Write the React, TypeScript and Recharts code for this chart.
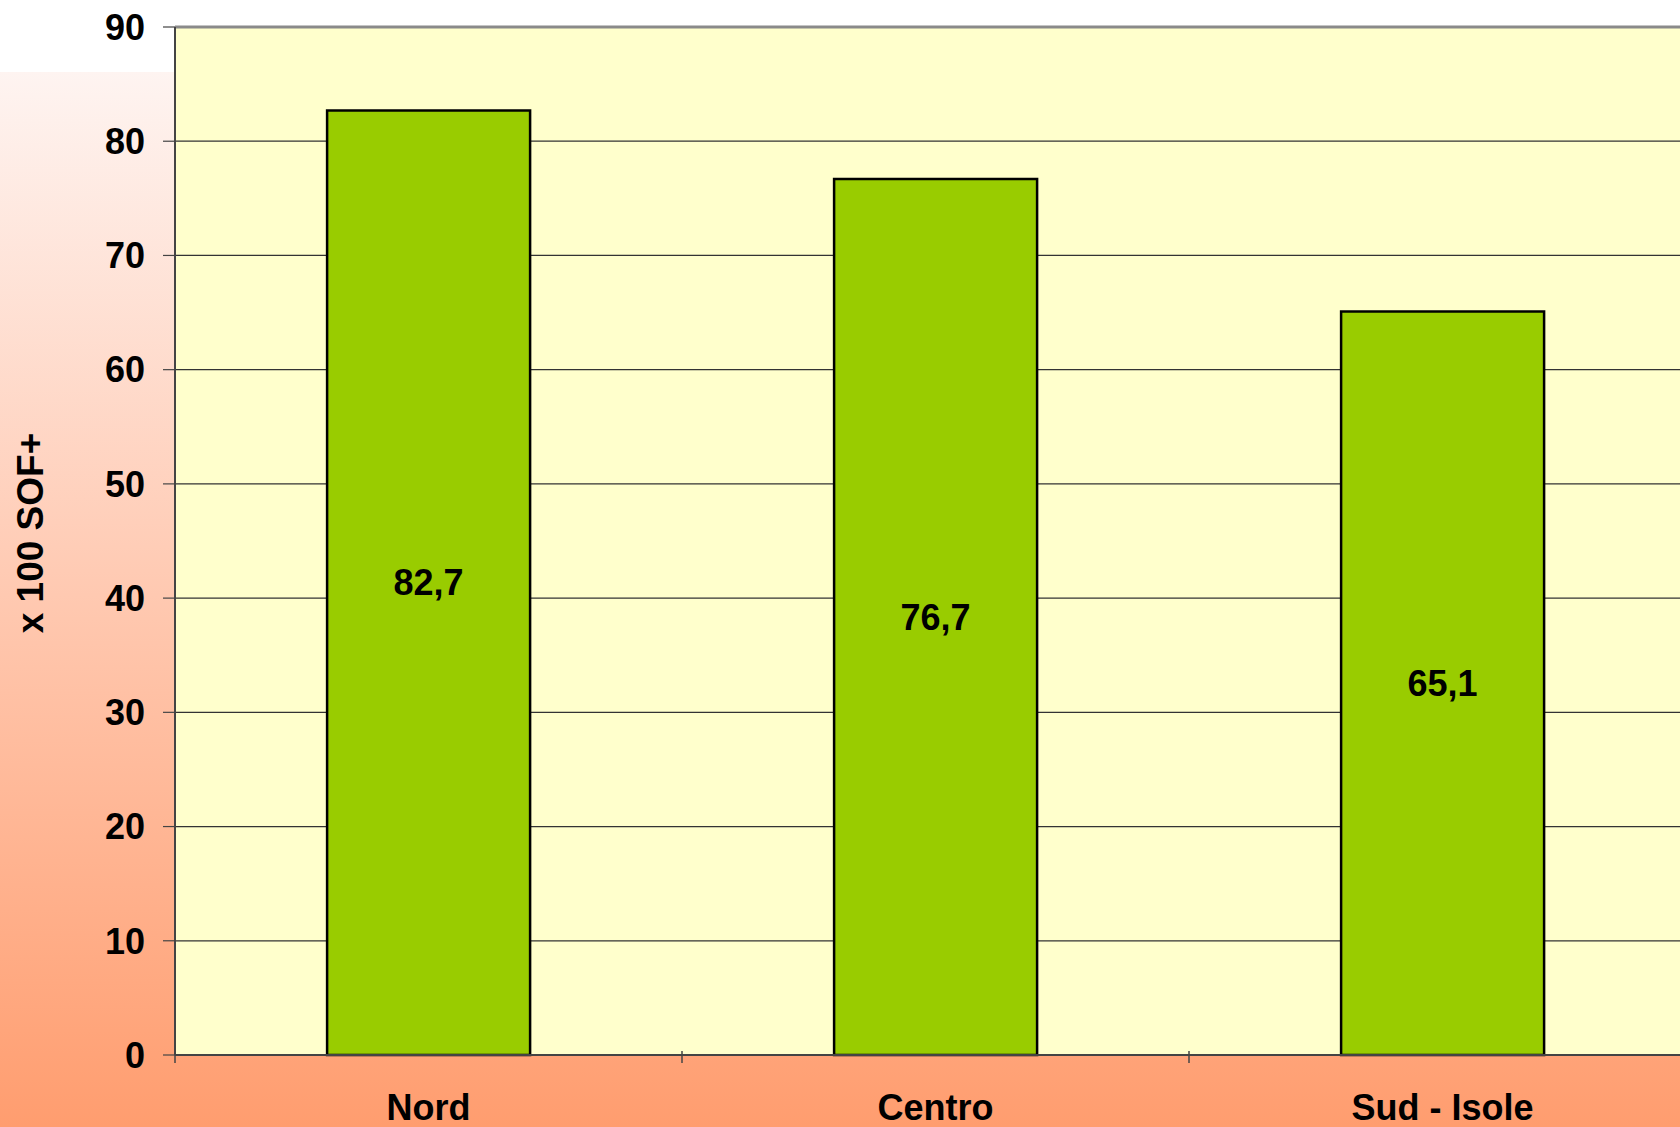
import React from 'react';
import {
  Bar,
  BarChart,
  CartesianGrid,
  LabelList,
  ReferenceLine,
  XAxis,
  YAxis,
} from 'recharts';

const regioni = ['Nord', 'Centro', 'Sud - Isole'];
const valori = [82.7, 76.7, 65.1];
const yTicks = [0, 10, 20, 30, 40, 50, 60, 70, 80, 90];

const FONT = '"Liberation Sans", Arial, sans-serif';

const chartData = regioni.map((r, i) => ({ regione: r, valore: valori[i] }));

const formatValore = (v: number) => v.toFixed(1).replace('.', ',');

// tick della x: etichetta al centro della categoria, trattino sul bordo sinistro
const CategoryTick = (props: any) => {
  const { x, y, payload } = props;
  const half = payload?.offset ?? 0;
  return (
    <g>
      <line x1={x - half} x2={x - half} y1={y - 12} y2={y} stroke="#444" strokeWidth={1.5} />
      <text
        x={x}
        y={y + 57}
        textAnchor="middle"
        fontFamily={FONT}
        fontSize={36}
        fontWeight={700}
        fill="#000"
      >
        {payload.value}
      </text>
    </g>
  );
};

const AxisTitle = (props: any) => {
  const { viewBox } = props;
  const cx = viewBox.x + 30;
  const cy = viewBox.y + viewBox.height / 2 - 8;
  return (
    <text
      x={cx}
      y={cy}
      transform={`rotate(-90, ${cx}, ${cy})`}
      textAnchor="middle"
      dominantBaseline="central"
      fontFamily={FONT}
      fontSize={37}
      fontWeight={700}
      fill="#000"
    >
      x 100 SOF+
    </text>
  );
};

export default function App() {
  return (
    <div
      style={{
        position: 'fixed',
        top: 0,
        left: 0,
        width: 1680,
        height: 1127,
        overflow: 'hidden',
        background: '#fff',
      }}
    >
      <div
        style={{
          position: 'absolute',
          top: 72,
          left: 0,
          width: 1680,
          height: 1055,
          background: 'linear-gradient(to bottom, #FEF4F1 0%, #FFCDB7 45%, #FF9D6F 100%)',
        }}
      />
      <div style={{ position: 'absolute', top: 0, left: 0 }}>
        <BarChart
          width={1720}
          height={1127}
          data={chartData}
          margin={{ top: 27, right: 24, left: 0, bottom: 0 }}
          barCategoryGap="30%"
        >
          <CartesianGrid
            vertical={false}
            fill="#FFFFCC"
            fillOpacity={1}
            stroke="#333"
            strokeWidth={1.2}
          />
          <XAxis
            dataKey="regione"
            height={72}
            axisLine={{ stroke: '#444', strokeWidth: 2 }}
            tickLine={false}
            tick={<CategoryTick />}
            interval={0}
          />
          <YAxis
            width={175}
            domain={[0, 90]}
            ticks={yTicks}
            interval={0}
            tickSize={12}
            tickMargin={18}
            axisLine={{ stroke: '#444', strokeWidth: 2 }}
            tickLine={{ stroke: '#444', strokeWidth: 1.2 }}
            tick={{ fontFamily: FONT, fontSize: 36, fontWeight: 700, fill: '#000' }}
            label={<AxisTitle />}
          />
          <ReferenceLine y={90} stroke="#8a8a8a" strokeWidth={3} />
          <Bar
            dataKey="valore"
            fill="#99CC00"
            stroke="#000"
            strokeWidth={2.5}
            isAnimationActive={false}
          >
            <LabelList
              dataKey="valore"
              position="center"
              formatter={(v: any) => formatValore(Number(v))}
              style={{ fontFamily: FONT, fontSize: 36, fontWeight: 700, fill: '#000' }}
            />
          </Bar>
        </BarChart>
      </div>
    </div>
  );
}
